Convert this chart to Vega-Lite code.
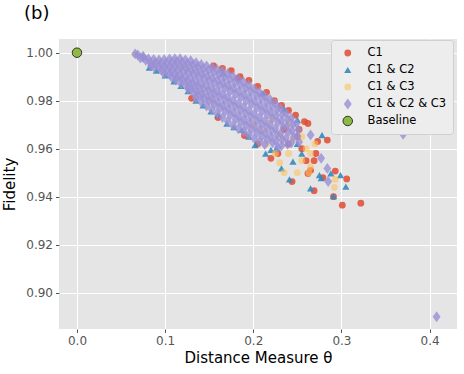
{
  "$schema": "https://vega.github.io/schema/vega-lite/v6.json",
  "autosize": "none",
  "padding": {"left": 59, "top": 39, "right": 7, "bottom": 45},
  "width": 398,
  "height": 290,
  "background": "white",
  "title": {"text": "(b)", "anchor": "start", "frame": "group", "dx": -35, "offset": 16, "fontSize": 18, "fontWeight": "normal", "font": "DejaVu Sans", "color": "black"},
  "data": {"values": [
    {"g":"C1","x":0.155,"y":0.9945},{"g":"C1","x":0.165,"y":0.9935},{"g":"C1","x":0.175,"y":0.9925},{"g":"C1","x":0.1825,"y":0.9893},{"g":"C1","x":0.185,"y":0.9900},{"g":"C1","x":0.195,"y":0.9885},{"g":"C1","x":0.205,"y":0.9860},{"g":"C1","x":0.215,"y":0.9835},{"g":"C1","x":0.224,"y":0.9800},{"g":"C1","x":0.232,"y":0.9780},{"g":"C1","x":0.240,"y":0.9760},{"g":"C1","x":0.248,"y":0.9740},{"g":"C1","x":0.258,"y":0.9713},{"g":"C1","x":0.262,"y":0.9705},
    {"g":"C1","x":0.130,"y":0.9810},{"g":"C1","x":0.160,"y":0.9730},{"g":"C1","x":0.190,"y":0.9655},{"g":"C1","x":0.205,"y":0.9620},{"g":"C1","x":0.220,"y":0.9560},{"g":"C1","x":0.244,"y":0.9463},{"g":"C1","x":0.262,"y":0.9497},{"g":"C1","x":0.269,"y":0.9425},{"g":"C1","x":0.273,"y":0.9630},{"g":"C1","x":0.271,"y":0.9580},{"g":"C1","x":0.269,"y":0.9550},{"g":"C1","x":0.279,"y":0.9480},{"g":"C1","x":0.284,"y":0.9636},{"g":"C1","x":0.293,"y":0.9507},{"g":"C1","x":0.306,"y":0.9474},{"g":"C1","x":0.291,"y":0.9400},{"g":"C1","x":0.301,"y":0.9365},{"g":"C1","x":0.322,"y":0.9373},{"g":"C1","x":0.250,"y":0.9650},{"g":"C1","x":0.255,"y":0.9600},{"g":"C1","x":0.240,"y":0.9620},{"g":"C1","x":0.235,"y":0.9680},{"g":"C1","x":0.260,"y":0.9550},{"g":"C1","x":0.265,"y":0.9510},{"g":"C1","x":0.252,"y":0.9680},{"g":"C1","x":0.228,"y":0.9580},
    {"g":"C1 & C2","x":0.082,"y":0.9938},{"g":"C1 & C2","x":0.090,"y":0.9925},{"g":"C1 & C2","x":0.100,"y":0.9905},{"g":"C1 & C2","x":0.110,"y":0.9880},{"g":"C1 & C2","x":0.118,"y":0.9862},{"g":"C1 & C2","x":0.126,"y":0.9840},{"g":"C1 & C2","x":0.135,"y":0.9800},{"g":"C1 & C2","x":0.143,"y":0.9780},{"g":"C1 & C2","x":0.152,"y":0.9755},{"g":"C1 & C2","x":0.160,"y":0.9740},{"g":"C1 & C2","x":0.170,"y":0.9705},{"g":"C1 & C2","x":0.178,"y":0.9690},{"g":"C1 & C2","x":0.187,"y":0.9678},{"g":"C1 & C2","x":0.195,"y":0.9650},{"g":"C1 & C2","x":0.202,"y":0.9615},{"g":"C1 & C2","x":0.214,"y":0.9580},{"g":"C1 & C2","x":0.220,"y":0.9595},{"g":"C1 & C2","x":0.232,"y":0.9518},{"g":"C1 & C2","x":0.241,"y":0.9472},{"g":"C1 & C2","x":0.245,"y":0.9546},{"g":"C1 & C2","x":0.265,"y":0.9435},{"g":"C1 & C2","x":0.275,"y":0.9490},{"g":"C1 & C2","x":0.277,"y":0.9477},{"g":"C1 & C2","x":0.278,"y":0.9657},{"g":"C1 & C2","x":0.288,"y":0.9497},{"g":"C1 & C2","x":0.291,"y":0.9403},{"g":"C1 & C2","x":0.299,"y":0.9490},{"g":"C1 & C2","x":0.305,"y":0.9442},{"g":"C1 & C2","x":0.255,"y":0.9580},{"g":"C1 & C2","x":0.250,"y":0.9620},{"g":"C1 & C2","x":0.1655,"y":0.9914},{"g":"C1 & C2","x":0.210,"y":0.9830},{"g":"C1 & C2","x":0.235,"y":0.9765},{"g":"C1 & C2","x":0.250,"y":0.9720},{"g":"C1 & C2","x":0.226,"y":0.9600},
    {"g":"C1 & C3","x":0.066,"y":0.9992},{"g":"C1 & C3","x":0.090,"y":0.9960},{"g":"C1 & C3","x":0.120,"y":0.9940},{"g":"C1 & C3","x":0.150,"y":0.9800},{"g":"C1 & C3","x":0.200,"y":0.9700},{"g":"C1 & C3","x":0.210,"y":0.9680},{"g":"C1 & C3","x":0.220,"y":0.9720},{"g":"C1 & C3","x":0.230,"y":0.9542},{"g":"C1 & C3","x":0.235,"y":0.9500},{"g":"C1 & C3","x":0.250,"y":0.9500},{"g":"C1 & C3","x":0.263,"y":0.9500},{"g":"C1 & C3","x":0.265,"y":0.9525},{"g":"C1 & C3","x":0.292,"y":0.9439},{"g":"C1 & C3","x":0.293,"y":0.9472},{"g":"C1 & C3","x":0.240,"y":0.9580},{"g":"C1 & C3","x":0.245,"y":0.9640},{"g":"C1 & C3","x":0.255,"y":0.9650},{"g":"C1 & C3","x":0.260,"y":0.9600},{"g":"C1 & C3","x":0.265,"y":0.9580},{"g":"C1 & C3","x":0.240,"y":0.9700},{"g":"C1 & C3","x":0.230,"y":0.9650},{"g":"C1 & C3","x":0.270,"y":0.9620},{"g":"C1 & C3","x":0.255,"y":0.9550},{"g":"C1 & C3","x":0.215,"y":0.9620},{"g":"C1 & C3","x":0.225,"y":0.9580},
    {"g":"C1 & C2 & C3","x":0.066,"y":0.9995},{"g":"C1 & C2 & C3","x":0.075,"y":0.9980},{"g":"C1 & C2 & C3","x":0.265,"y":0.9657},{"g":"C1 & C2 & C3","x":0.277,"y":0.9560},{"g":"C1 & C2 & C3","x":0.284,"y":0.9518},{"g":"C1 & C2 & C3","x":0.285,"y":0.9463},{"g":"C1 & C2 & C3","x":0.370,"y":0.9660},{"g":"C1 & C2 & C3","x":0.408,"y":0.8900},
    {"g":"C1 & C2 & C3","x":0.069,"y":0.9990},{"g":"C1 & C2 & C3","x":0.072,"y":0.9978},
    {"g":"C1 & C2 & C3","x":0.075,"y":0.9985},{"g":"C1 & C2 & C3","x":0.078,"y":0.9968},
    {"g":"C1 & C2 & C3","x":0.081,"y":0.9975},{"g":"C1 & C2 & C3","x":0.083,"y":0.9958},{"g":"C1 & C2 & C3","x":0.084,"y":0.9945},
    {"g":"C1 & C2 & C3","x":0.087,"y":0.9972},{"g":"C1 & C2 & C3","x":0.089,"y":0.9955},{"g":"C1 & C2 & C3","x":0.088,"y":0.9938},
    {"g":"C1 & C2 & C3","x":0.093,"y":0.9970},{"g":"C1 & C2 & C3","x":0.095,"y":0.9954},{"g":"C1 & C2 & C3","x":0.094,"y":0.9938},{"g":"C1 & C2 & C3","x":0.096,"y":0.9926},
    {"g":"C1 & C2 & C3","x":0.099,"y":0.9972},{"g":"C1 & C2 & C3","x":0.101,"y":0.9955},{"g":"C1 & C2 & C3","x":0.100,"y":0.9940},{"g":"C1 & C2 & C3","x":0.102,"y":0.9925},{"g":"C1 & C2 & C3","x":0.099,"y":0.9913},
    {"g":"C1 & C2 & C3","x":0.105,"y":0.9974},{"g":"C1 & C2 & C3","x":0.107,"y":0.9958},{"g":"C1 & C2 & C3","x":0.106,"y":0.9942},{"g":"C1 & C2 & C3","x":0.108,"y":0.9926},{"g":"C1 & C2 & C3","x":0.105,"y":0.9910},{"g":"C1 & C2 & C3","x":0.107,"y":0.9900},
    {"g":"C1 & C2 & C3","x":0.111,"y":0.9975},{"g":"C1 & C2 & C3","x":0.113,"y":0.9960},{"g":"C1 & C2 & C3","x":0.112,"y":0.9944},{"g":"C1 & C2 & C3","x":0.114,"y":0.9928},{"g":"C1 & C2 & C3","x":0.111,"y":0.9912},{"g":"C1 & C2 & C3","x":0.113,"y":0.9896},{"g":"C1 & C2 & C3","x":0.112,"y":0.9886},
    {"g":"C1 & C2 & C3","x":0.117,"y":0.9975},{"g":"C1 & C2 & C3","x":0.119,"y":0.9958},{"g":"C1 & C2 & C3","x":0.118,"y":0.9940},{"g":"C1 & C2 & C3","x":0.120,"y":0.9923},{"g":"C1 & C2 & C3","x":0.117,"y":0.9906},{"g":"C1 & C2 & C3","x":0.119,"y":0.9889},{"g":"C1 & C2 & C3","x":0.118,"y":0.9872},
    {"g":"C1 & C2 & C3","x":0.123,"y":0.9970},{"g":"C1 & C2 & C3","x":0.125,"y":0.9953},{"g":"C1 & C2 & C3","x":0.124,"y":0.9935},{"g":"C1 & C2 & C3","x":0.126,"y":0.9917},{"g":"C1 & C2 & C3","x":0.123,"y":0.9899},{"g":"C1 & C2 & C3","x":0.125,"y":0.9881},{"g":"C1 & C2 & C3","x":0.124,"y":0.9864},{"g":"C1 & C2 & C3","x":0.126,"y":0.9851},
    {"g":"C1 & C2 & C3","x":0.129,"y":0.9966},{"g":"C1 & C2 & C3","x":0.131,"y":0.9948},{"g":"C1 & C2 & C3","x":0.130,"y":0.9929},{"g":"C1 & C2 & C3","x":0.132,"y":0.9910},{"g":"C1 & C2 & C3","x":0.129,"y":0.9891},{"g":"C1 & C2 & C3","x":0.131,"y":0.9872},{"g":"C1 & C2 & C3","x":0.130,"y":0.9853},{"g":"C1 & C2 & C3","x":0.132,"y":0.9834},
    {"g":"C1 & C2 & C3","x":0.135,"y":0.9958},{"g":"C1 & C2 & C3","x":0.137,"y":0.9939},{"g":"C1 & C2 & C3","x":0.136,"y":0.9920},{"g":"C1 & C2 & C3","x":0.138,"y":0.9900},{"g":"C1 & C2 & C3","x":0.135,"y":0.9880},{"g":"C1 & C2 & C3","x":0.137,"y":0.9860},{"g":"C1 & C2 & C3","x":0.136,"y":0.9840},{"g":"C1 & C2 & C3","x":0.138,"y":0.9822},{"g":"C1 & C2 & C3","x":0.135,"y":0.9811},
    {"g":"C1 & C2 & C3","x":0.141,"y":0.9951},{"g":"C1 & C2 & C3","x":0.143,"y":0.9931},{"g":"C1 & C2 & C3","x":0.142,"y":0.9911},{"g":"C1 & C2 & C3","x":0.144,"y":0.9890},{"g":"C1 & C2 & C3","x":0.141,"y":0.9870},{"g":"C1 & C2 & C3","x":0.143,"y":0.9849},{"g":"C1 & C2 & C3","x":0.142,"y":0.9829},{"g":"C1 & C2 & C3","x":0.144,"y":0.9809},{"g":"C1 & C2 & C3","x":0.141,"y":0.9795},
    {"g":"C1 & C2 & C3","x":0.147,"y":0.9945},{"g":"C1 & C2 & C3","x":0.149,"y":0.9925},{"g":"C1 & C2 & C3","x":0.148,"y":0.9904},{"g":"C1 & C2 & C3","x":0.150,"y":0.9883},{"g":"C1 & C2 & C3","x":0.147,"y":0.9862},{"g":"C1 & C2 & C3","x":0.149,"y":0.9841},{"g":"C1 & C2 & C3","x":0.148,"y":0.9820},{"g":"C1 & C2 & C3","x":0.150,"y":0.9799},{"g":"C1 & C2 & C3","x":0.147,"y":0.9778},
    {"g":"C1 & C2 & C3","x":0.153,"y":0.9938},{"g":"C1 & C2 & C3","x":0.155,"y":0.9917},{"g":"C1 & C2 & C3","x":0.154,"y":0.9895},{"g":"C1 & C2 & C3","x":0.156,"y":0.9873},{"g":"C1 & C2 & C3","x":0.153,"y":0.9851},{"g":"C1 & C2 & C3","x":0.155,"y":0.9829},{"g":"C1 & C2 & C3","x":0.154,"y":0.9807},{"g":"C1 & C2 & C3","x":0.156,"y":0.9785},{"g":"C1 & C2 & C3","x":0.153,"y":0.9763},
    {"g":"C1 & C2 & C3","x":0.159,"y":0.9930},{"g":"C1 & C2 & C3","x":0.161,"y":0.9908},{"g":"C1 & C2 & C3","x":0.160,"y":0.9886},{"g":"C1 & C2 & C3","x":0.162,"y":0.9863},{"g":"C1 & C2 & C3","x":0.159,"y":0.9840},{"g":"C1 & C2 & C3","x":0.161,"y":0.9817},{"g":"C1 & C2 & C3","x":0.160,"y":0.9794},{"g":"C1 & C2 & C3","x":0.162,"y":0.9771},{"g":"C1 & C2 & C3","x":0.159,"y":0.9748},
    {"g":"C1 & C2 & C3","x":0.165,"y":0.9922},{"g":"C1 & C2 & C3","x":0.167,"y":0.9899},{"g":"C1 & C2 & C3","x":0.166,"y":0.9876},{"g":"C1 & C2 & C3","x":0.168,"y":0.9852},{"g":"C1 & C2 & C3","x":0.165,"y":0.9828},{"g":"C1 & C2 & C3","x":0.167,"y":0.9804},{"g":"C1 & C2 & C3","x":0.166,"y":0.9780},{"g":"C1 & C2 & C3","x":0.168,"y":0.9756},{"g":"C1 & C2 & C3","x":0.165,"y":0.9730},
    {"g":"C1 & C2 & C3","x":0.171,"y":0.9912},{"g":"C1 & C2 & C3","x":0.173,"y":0.9888},{"g":"C1 & C2 & C3","x":0.172,"y":0.9864},{"g":"C1 & C2 & C3","x":0.174,"y":0.9840},{"g":"C1 & C2 & C3","x":0.171,"y":0.9815},{"g":"C1 & C2 & C3","x":0.173,"y":0.9790},{"g":"C1 & C2 & C3","x":0.172,"y":0.9765},{"g":"C1 & C2 & C3","x":0.174,"y":0.9740},{"g":"C1 & C2 & C3","x":0.171,"y":0.9714},
    {"g":"C1 & C2 & C3","x":0.177,"y":0.9902},{"g":"C1 & C2 & C3","x":0.179,"y":0.9877},{"g":"C1 & C2 & C3","x":0.178,"y":0.9852},{"g":"C1 & C2 & C3","x":0.180,"y":0.9827},{"g":"C1 & C2 & C3","x":0.177,"y":0.9801},{"g":"C1 & C2 & C3","x":0.179,"y":0.9776},{"g":"C1 & C2 & C3","x":0.178,"y":0.9750},{"g":"C1 & C2 & C3","x":0.180,"y":0.9724},{"g":"C1 & C2 & C3","x":0.177,"y":0.9698},
    {"g":"C1 & C2 & C3","x":0.183,"y":0.9890},{"g":"C1 & C2 & C3","x":0.185,"y":0.9865},{"g":"C1 & C2 & C3","x":0.184,"y":0.9839},{"g":"C1 & C2 & C3","x":0.186,"y":0.9813},{"g":"C1 & C2 & C3","x":0.183,"y":0.9787},{"g":"C1 & C2 & C3","x":0.185,"y":0.9761},{"g":"C1 & C2 & C3","x":0.184,"y":0.9735},{"g":"C1 & C2 & C3","x":0.186,"y":0.9709},{"g":"C1 & C2 & C3","x":0.183,"y":0.9683},
    {"g":"C1 & C2 & C3","x":0.189,"y":0.9878},{"g":"C1 & C2 & C3","x":0.191,"y":0.9852},{"g":"C1 & C2 & C3","x":0.190,"y":0.9826},{"g":"C1 & C2 & C3","x":0.192,"y":0.9800},{"g":"C1 & C2 & C3","x":0.189,"y":0.9774},{"g":"C1 & C2 & C3","x":0.191,"y":0.9748},{"g":"C1 & C2 & C3","x":0.190,"y":0.9722},{"g":"C1 & C2 & C3","x":0.192,"y":0.9696},{"g":"C1 & C2 & C3","x":0.189,"y":0.9672},
    {"g":"C1 & C2 & C3","x":0.195,"y":0.9865},{"g":"C1 & C2 & C3","x":0.197,"y":0.9839},{"g":"C1 & C2 & C3","x":0.196,"y":0.9812},{"g":"C1 & C2 & C3","x":0.198,"y":0.9786},{"g":"C1 & C2 & C3","x":0.195,"y":0.9759},{"g":"C1 & C2 & C3","x":0.197,"y":0.9733},{"g":"C1 & C2 & C3","x":0.196,"y":0.9707},{"g":"C1 & C2 & C3","x":0.198,"y":0.9681},{"g":"C1 & C2 & C3","x":0.195,"y":0.9658},
    {"g":"C1 & C2 & C3","x":0.201,"y":0.9850},{"g":"C1 & C2 & C3","x":0.203,"y":0.9824},{"g":"C1 & C2 & C3","x":0.202,"y":0.9798},{"g":"C1 & C2 & C3","x":0.204,"y":0.9771},{"g":"C1 & C2 & C3","x":0.201,"y":0.9745},{"g":"C1 & C2 & C3","x":0.203,"y":0.9718},{"g":"C1 & C2 & C3","x":0.202,"y":0.9692},{"g":"C1 & C2 & C3","x":0.204,"y":0.9666},{"g":"C1 & C2 & C3","x":0.201,"y":0.9643},
    {"g":"C1 & C2 & C3","x":0.207,"y":0.9835},{"g":"C1 & C2 & C3","x":0.209,"y":0.9809},{"g":"C1 & C2 & C3","x":0.208,"y":0.9782},{"g":"C1 & C2 & C3","x":0.210,"y":0.9756},{"g":"C1 & C2 & C3","x":0.207,"y":0.9730},{"g":"C1 & C2 & C3","x":0.209,"y":0.9704},{"g":"C1 & C2 & C3","x":0.208,"y":0.9678},{"g":"C1 & C2 & C3","x":0.210,"y":0.9652},{"g":"C1 & C2 & C3","x":0.207,"y":0.9630},
    {"g":"C1 & C2 & C3","x":0.213,"y":0.9820},{"g":"C1 & C2 & C3","x":0.215,"y":0.9794},{"g":"C1 & C2 & C3","x":0.214,"y":0.9768},{"g":"C1 & C2 & C3","x":0.216,"y":0.9742},{"g":"C1 & C2 & C3","x":0.213,"y":0.9716},{"g":"C1 & C2 & C3","x":0.215,"y":0.9690},{"g":"C1 & C2 & C3","x":0.214,"y":0.9664},{"g":"C1 & C2 & C3","x":0.216,"y":0.9638},{"g":"C1 & C2 & C3","x":0.213,"y":0.9617},
    {"g":"C1 & C2 & C3","x":0.219,"y":0.9805},{"g":"C1 & C2 & C3","x":0.221,"y":0.9779},{"g":"C1 & C2 & C3","x":0.220,"y":0.9753},{"g":"C1 & C2 & C3","x":0.222,"y":0.9727},{"g":"C1 & C2 & C3","x":0.219,"y":0.9701},{"g":"C1 & C2 & C3","x":0.221,"y":0.9675},{"g":"C1 & C2 & C3","x":0.220,"y":0.9649},{"g":"C1 & C2 & C3","x":0.222,"y":0.9625},
    {"g":"C1 & C2 & C3","x":0.225,"y":0.9788},{"g":"C1 & C2 & C3","x":0.227,"y":0.9762},{"g":"C1 & C2 & C3","x":0.226,"y":0.9736},{"g":"C1 & C2 & C3","x":0.228,"y":0.9710},{"g":"C1 & C2 & C3","x":0.225,"y":0.9684},{"g":"C1 & C2 & C3","x":0.227,"y":0.9658},{"g":"C1 & C2 & C3","x":0.226,"y":0.9632},{"g":"C1 & C2 & C3","x":0.228,"y":0.9605},
    {"g":"C1 & C2 & C3","x":0.231,"y":0.9768},{"g":"C1 & C2 & C3","x":0.233,"y":0.9742},{"g":"C1 & C2 & C3","x":0.232,"y":0.9716},{"g":"C1 & C2 & C3","x":0.234,"y":0.9690},{"g":"C1 & C2 & C3","x":0.231,"y":0.9664},{"g":"C1 & C2 & C3","x":0.233,"y":0.9638},{"g":"C1 & C2 & C3","x":0.232,"y":0.9612},
    {"g":"C1 & C2 & C3","x":0.237,"y":0.9748},{"g":"C1 & C2 & C3","x":0.239,"y":0.9722},{"g":"C1 & C2 & C3","x":0.238,"y":0.9696},{"g":"C1 & C2 & C3","x":0.240,"y":0.9670},{"g":"C1 & C2 & C3","x":0.237,"y":0.9644},{"g":"C1 & C2 & C3","x":0.239,"y":0.9618},
    {"g":"C1 & C2 & C3","x":0.243,"y":0.9728},{"g":"C1 & C2 & C3","x":0.245,"y":0.9702},{"g":"C1 & C2 & C3","x":0.244,"y":0.9676},{"g":"C1 & C2 & C3","x":0.246,"y":0.9650},{"g":"C1 & C2 & C3","x":0.243,"y":0.9624},
    {"g":"C1 & C2 & C3","x":0.249,"y":0.9705},{"g":"C1 & C2 & C3","x":0.251,"y":0.9678},{"g":"C1 & C2 & C3","x":0.250,"y":0.9652},{"g":"C1 & C2 & C3","x":0.252,"y":0.9628},
    {"g":"Baseline","x":0.0,"y":1.0}
  ]},
  "mark": {"type": "point", "filled": true, "stroke": "#333333"},
  "encoding": {
    "x": {"field": "x", "type": "quantitative", "scale": {"domain": [-0.0204, 0.4311], "nice": false, "zero": false},
          "axis": {"title": "Distance Measure θ", "values": [0, 0.1, 0.2, 0.3, 0.4], "format": ".1f", "titlePadding": 4}},
    "y": {"field": "y", "type": "quantitative", "scale": {"domain": [0.8849, 1.0057], "nice": false, "zero": false},
          "axis": {"title": "Fidelity", "values": [0.9, 0.92, 0.94, 0.96, 0.98, 1.0], "format": ".2f", "titlePadding": 8}},
    "color": {"field": "g", "type": "nominal", "legend": {"title": null},
              "scale": {"domain": ["C1", "C1 & C2", "C1 & C3", "C1 & C2 & C3", "Baseline"], "range": ["#E24A33", "#348ABD", "#FBC15E", "#988ED5", "#8EBA42"]}},
    "shape": {"field": "g", "type": "nominal", "legend": {"title": null},
              "scale": {"domain": ["C1", "C1 & C2", "C1 & C3", "C1 & C2 & C3", "Baseline"], "range": ["circle", "triangle-up", "circle", "M0,-1L0.72,0L0,1L-0.72,0Z", "circle"]}},
    "size": {"field": "g", "type": "nominal", "legend": {"title": null},
             "scale": {"type": "ordinal", "domain": ["C1", "C1 & C2", "C1 & C3", "C1 & C2 & C3", "Baseline"], "range": [46, 52, 46, 120, 90]}},
    "opacity": {"field": "g", "type": "nominal", "legend": {"title": null},
                "scale": {"type": "ordinal", "domain": ["C1", "C1 & C2", "C1 & C3", "C1 & C2 & C3", "Baseline"], "range": [0.85, 0.9, 0.6, 0.8, 1]}},
    "strokeWidth": {"field": "g", "type": "nominal", "legend": {"title": null},
                    "scale": {"type": "ordinal", "domain": ["C1", "C1 & C2", "C1 & C3", "C1 & C2 & C3", "Baseline"], "range": [0, 0, 0, 0, 1]}}
  },
  "config": {
    "font": "DejaVu Sans",
    "view": {"fill": "#E5E5E5", "stroke": null},
    "axis": {"domain": false, "grid": true, "gridColor": "white", "gridWidth": 1, "tickColor": "#555555", "tickSize": 3.5, "labelPadding": 3, "labelColor": "#555555", "labelFontSize": 12, "labelFont": "DejaVu Sans", "titleFont": "DejaVu Sans", "titleFontSize": 15, "titleFontWeight": "normal", "titleColor": "black"},
    "legend": {"orient": "none", "legendX": 272, "legendY": 1, "fillColor": "#EDEDED", "strokeColor": "#D0D0D0", "cornerRadius": 3, "padding": 6, "symbolOffset": 5, "labelOffset": 14, "rowPadding": 3, "clipHeight": 14, "labelFontSize": 11.5, "labelFont": "DejaVu Sans", "labelColor": "black", "symbolStrokeColor": "#333333"}
  }
}
